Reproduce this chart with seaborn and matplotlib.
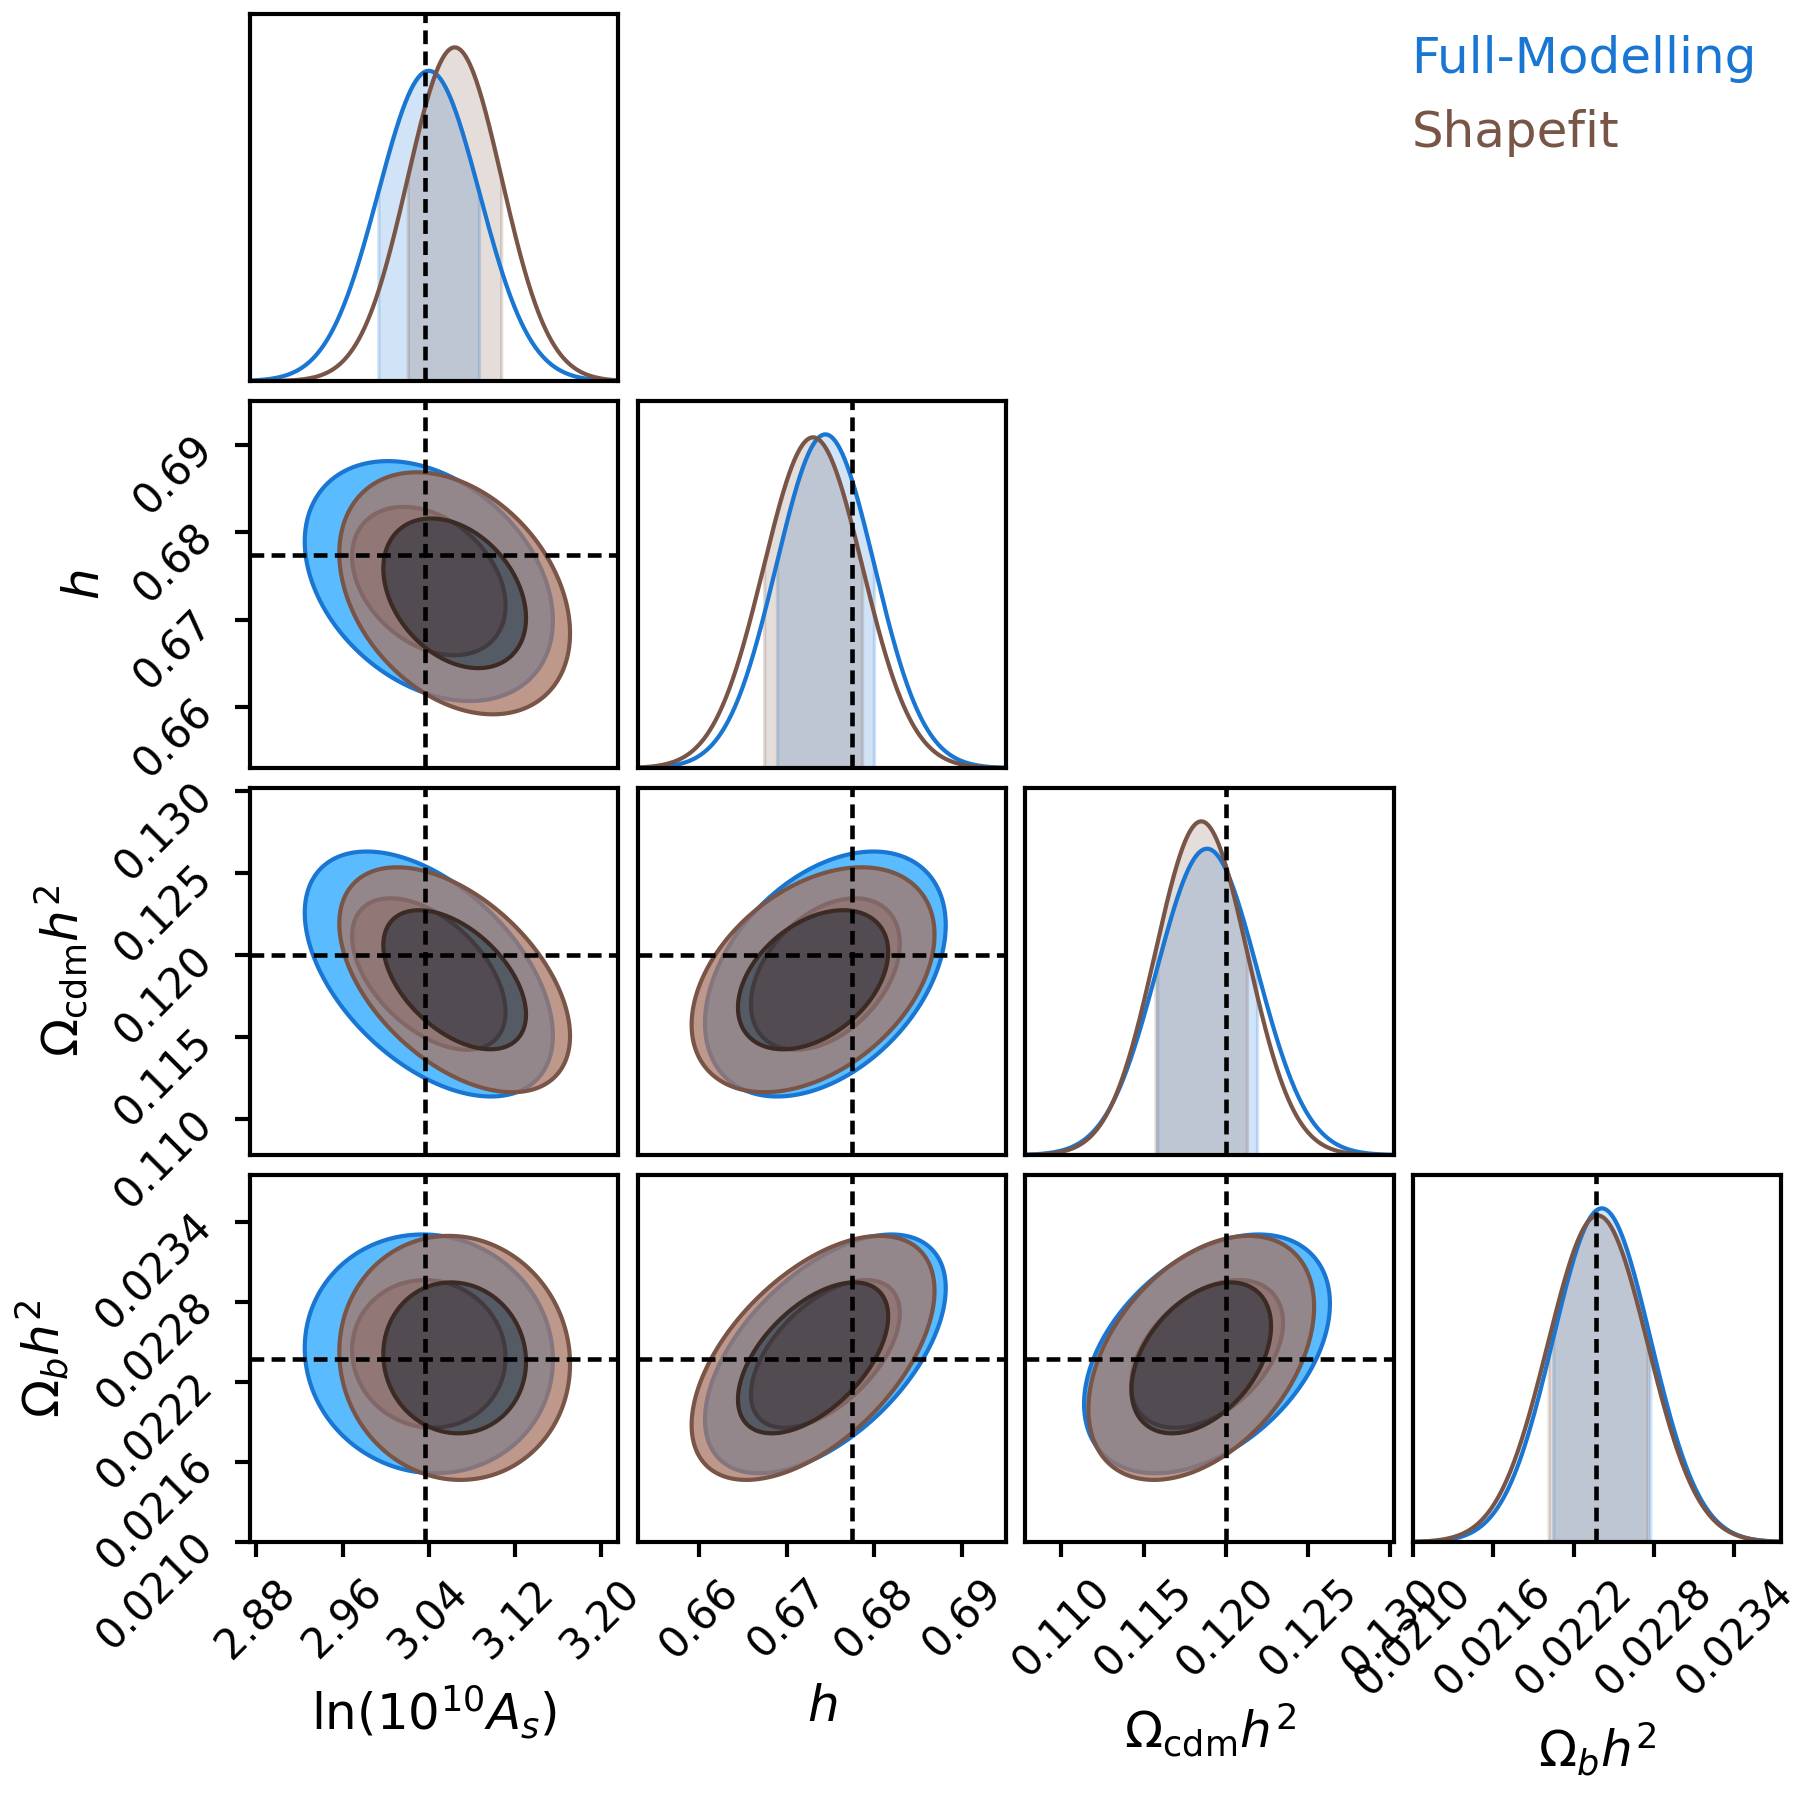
import numpy as np
import matplotlib
matplotlib.use("Agg")
import matplotlib.pyplot as plt
import seaborn as sns
from matplotlib.ticker import FixedLocator, FormatStrFormatter

# parameters
labels = [r"$\ln(10^{10}A_s)$", r"$h$", r"$\Omega_{\rm cdm}h^2$", r"$\Omega_b h^2$"]
truth = [3.0364, 0.6774, 0.1200, 0.02237]

fm_mean = [3.040, 0.6744, 0.11885, 0.02241]
fm_sigma = [0.0470, 0.0056, 0.00305, 0.000365]
sf_mean = [3.064, 0.6730, 0.11850, 0.02238]
sf_sigma = [0.0437, 0.00565, 0.00280, 0.000373]
corr = [[1.00, -0.33, -0.50, -0.05],
        [-0.33, 1.00, 0.40, 0.55],
        [-0.50, 0.40, 1.00, 0.42],
        [-0.05, 0.55, 0.42, 1.00]]

limits = [(2.874, 3.216), (0.6530, 0.6950), (0.10780, 0.13020), (0.02100, 0.02375)]
ticks = [[2.88, 2.96, 3.04, 3.12, 3.20],
         [0.66, 0.67, 0.68, 0.69],
         [0.110, 0.115, 0.120, 0.125, 0.130],
         [0.0210, 0.0216, 0.0222, 0.0228, 0.0234]]
tick_fmt = ["%.2f", "%.2f", "%.3f", "%.4f"]

chains = [("Full-Modelling", "#1976D2", fm_mean, fm_sigma),
          ("Shapefit", "#795548", sf_mean, sf_sigma)]

# 2D levels: 68% and 95% enclosed probability
r_levels = [1.515, 2.45]


def scale_colour(colour, factor):
    c = colour.lstrip("#")
    rgb = [min(255, int(int(c[k:k + 2], 16) * factor)) for k in (0, 2, 4)]
    return "#%02x%02x%02x" % tuple(rgb)


def plot_1d(ax, i):
    xs = np.linspace(*limits[i], 400)
    peak = 0
    for name, colour, mean, sigma in chains:
        pdf = np.exp(-0.5 * ((xs - mean[i]) / sigma[i]) ** 2) / (sigma[i] * np.sqrt(2 * np.pi))
        peak = max(peak, pdf.max())
        inside = (xs >= mean[i] - sigma[i]) & (xs <= mean[i] + sigma[i])
        ax.fill_between(xs, 0, pdf, where=inside, color=colour, alpha=0.2, lw=0.8)
        sns.lineplot(x=xs, y=pdf, ax=ax, color=colour, linewidth=1.0)
    ax.set_ylim(0, 1.1 * peak)
    ax.axvline(truth[i], color="black", lw=1.1, ls=(0, (3, 1.6)), zorder=10)


def plot_2d(ax, i, j):
    # x is parameter j, y is parameter i
    xs = np.linspace(*limits[j], 300)
    ys = np.linspace(*limits[i], 300)
    X, Y = np.meshgrid(xs, ys)
    for k, (name, colour, mean, sigma) in enumerate(chains):
        rho = corr[i][j]
        dx = (X - mean[j]) / sigma[j]
        dy = (Y - mean[i]) / sigma[i]
        d2 = (dx ** 2 - 2 * rho * dx * dy + dy ** 2) / (1 - rho ** 2)
        lv = [0, r_levels[0] ** 2, r_levels[1] ** 2]
        z = 2 + 2 * k
        ax.contourf(X, Y, d2, levels=lv,
                    colors=[scale_colour(colour, 0.7), scale_colour(colour, 1.4)],
                    alpha=0.75, zorder=z)
        ax.contour(X, Y, d2, levels=lv[1:],
                   colors=[scale_colour(colour, 0.5), colour],
                   linewidths=1.0, zorder=z + 0.5)
    ax.axvline(truth[j], color="black", lw=1.1, ls=(0, (3, 1.6)), zorder=10)
    ax.axhline(truth[i], color="black", lw=1.1, ls=(0, (3, 1.6)), zorder=10)


plt.rcParams["axes.linewidth"] = 1.0
plt.rcParams["xtick.major.width"] = 1.0
plt.rcParams["ytick.major.width"] = 1.0

n = len(labels)
fig, axes = plt.subplots(n, n, figsize=(1814 / 300, 1794 / 300), dpi=300,
                         gridspec_kw=dict(left=0.1378, right=0.982, top=0.9922,
                                          bottom=0.1404, wspace=0.052, hspace=0.054))

for i in range(n):
    for j in range(n):
        ax = axes[i, j]
        if j > i:
            ax.axis("off")
            continue
        if i == j:
            plot_1d(ax, i)
        else:
            plot_2d(ax, i, j)
            ax.set_ylim(*limits[i])
        ax.set_xlim(*limits[j])

        if i == n - 1:
            ax.xaxis.set_major_locator(FixedLocator(ticks[j]))
            ax.xaxis.set_major_formatter(FormatStrFormatter(tick_fmt[j]))
            for t in ax.get_xticklabels():
                t.set_rotation(45)
            ax.tick_params(axis="x", labelsize=10)
            ax.set_xlabel(labels[j], fontsize=12)
        else:
            ax.set_xticks([])
        if j == 0 and i > 0:
            ax.yaxis.set_major_locator(FixedLocator(ticks[i]))
            ax.yaxis.set_major_formatter(FormatStrFormatter(tick_fmt[i]))
            for t in ax.get_yticklabels():
                t.set_rotation(45)
            ax.tick_params(axis="y", labelsize=10)
            ax.set_ylabel(labels[i], fontsize=12)
        else:
            ax.set_yticks([])
            ax.set_ylabel("")
        if i != n - 1:
            ax.set_xlabel("")

# legend as coloured text
for k, (name, colour, mean, sigma) in enumerate(chains):
    fig.text(0.778, 0.9595 - 0.0413 * k, name, color=colour, fontsize=12,
             ha="left", va="baseline")

fig.savefig("out.png", dpi=300)
